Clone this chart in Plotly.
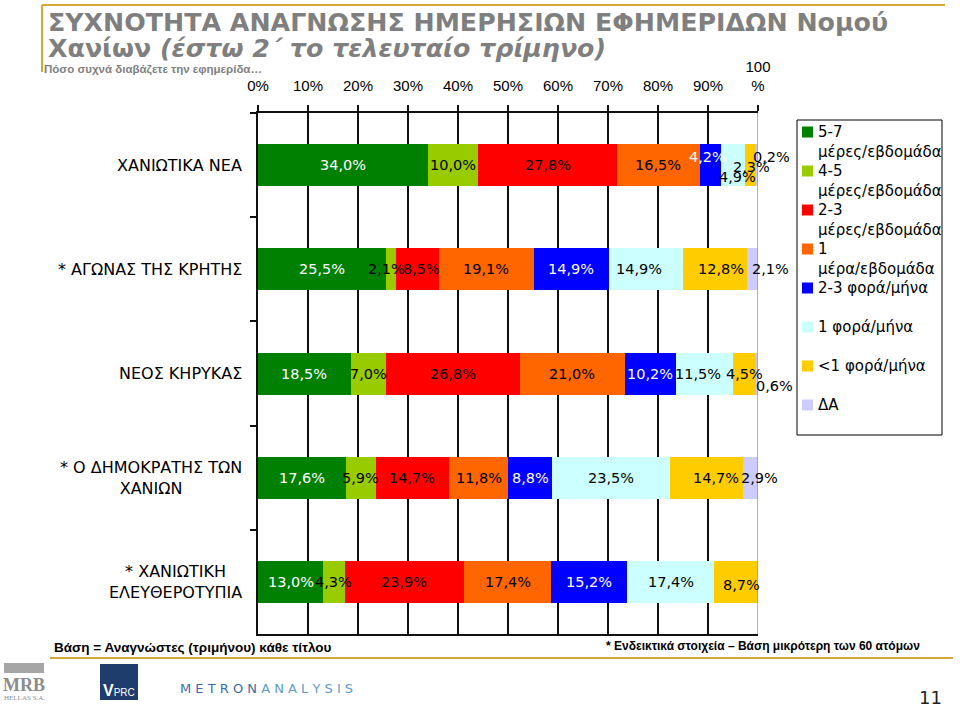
import plotly.graph_objects as go

# ---------------- data ----------------
categories = [
    "ΧΑΝΙΩΤΙΚΑ ΝΕΑ",
    "* ΑΓΩΝΑΣ ΤΗΣ ΚΡΗΤΗΣ",
    "ΝΕΟΣ ΚΗΡΥΚΑΣ",
    "* Ο ΔΗΜΟΚΡΑΤΗΣ ΤΩΝ<br>ΧΑΝΙΩΝ",
    "* ΧΑΝΙΩΤΙΚΗ<br>ΕΛΕΥΘΕΡΟΤΥΠΙΑ",
]
series_names = [
    "5-7<br>μέρες/εβδομάδα",
    "4-5<br>μέρες/εβδομάδα",
    "2-3<br>μέρες/εβδομάδα",
    "1<br>μέρα/εβδομάδα",
    "2-3 φορά/μήνα",
    "1 φορά/μήνα",
    "&lt;1 φορά/μήνα",
    "ΔΑ",
]
days_5_7 = [34.0, 25.5, 18.5, 17.6, 13.0]
days_4_5 = [10.0, 2.1, 7.0, 5.9, 4.3]
days_2_3 = [27.8, 8.5, 26.8, 14.7, 23.9]
day_1 = [16.5, 19.1, 21.0, 11.8, 17.4]
month_2_3 = [4.2, 14.9, 10.2, 8.8, 15.2]
month_1 = [4.9, 14.9, 11.5, 23.5, 17.4]
month_lt1 = [2.3, 12.8, 4.5, 14.7, 8.7]
no_answer = [0.2, 2.1, 0.6, 2.9, 0.0]
series_values = [days_5_7, days_4_5, days_2_3, day_1, month_2_3, month_1, month_lt1, no_answer]

x_tickvals = [0, 10, 20, 30, 40, 50, 60, 70, 80, 90, 100]
x_ticktext = ["0%", "10%", "20%", "30%", "40%", "50%", "60%", "70%", "80%", "90%", "100<br>%"]

# ---------------- styles ----------------
colors = ["#008000", "#99CC00", "#FF0000", "#FF6600", "#0000FF", "#CCFFFF", "#FFCC00", "#CCCCFF"]
label_colors = ["white", "black", "black", "black", "white", "black", "black", "black"]
# pixel nudges of individual value labels (row, series): (dx, dy)
label_nudge = {
    (0, 4): (-3, 8), (0, 5): (5, -12), (0, 6): (1, -2), (0, 7): (14, 8),
    (1, 1): (-4, 0), (1, 2): (4, 0), (1, 5): (-7, 0), (1, 6): (6, 0), (1, 7): (18, 0),
    (2, 5): (-6, 0), (2, 7): (17, -12),
    (3, 6): (10, 0), (3, 7): (9, 0),
    (4, 6): (6, -3),
}

W, H = 960, 708
L, R, T, B = 258, 758, 113, 634


def px(xp):
    return (xp - L) / (R - L)


def py(yp):
    return (B - yp) / (B - T)


GOLD = "#D4A838"
GRAY = "#7F7F7F"
MAIN_FONT = "DejaVu Sans"

fig = go.Figure()
for name, vals, col in zip(series_names, series_values, colors):
    fig.add_trace(go.Bar(
        y=categories, x=vals, name=name, orientation="h",
        marker=dict(color=col, line=dict(width=0)),
        showlegend=False, hoverinfo="x+y",
    ))

annotations = []
# value labels
for r, cat in enumerate(categories):
    cum = 0.0
    for s, vals in enumerate(series_values):
        v = vals[r]
        if v > 0:
            dx, dy = label_nudge.get((r, s), (0, 0))
            annotations.append(dict(
                x=cum + v / 2, y=cat, xref="x", yref="y",
                text=f"{v:.1f}".replace(".", ",") + "%",
                showarrow=False, xshift=dx, yshift=dy,
                font=dict(family=MAIN_FONT, size=14.5, color=label_colors[s]),
            ))
        cum += v

# category labels
for cat in categories:
    annotations.append(dict(
        x=0, y=cat, xref="paper", yref="y", xanchor="right", yanchor="middle",
        xshift=-14, text=cat, align="center", showarrow=False,
        font=dict(family=MAIN_FONT, size=16, color="black"),
    ))

# manual legend
shapes = []
for i, (name, col) in enumerate(zip(series_names, colors)):
    yc = 132 + 39 * i
    shapes.append(dict(type="rect", xref="paper", yref="paper",
                       x0=px(802), x1=px(813), y0=py(yc - 5.5), y1=py(yc + 5.5),
                       fillcolor=col, line=dict(width=0)))
    annotations.append(dict(
        x=px(816), y=py(yc - 11), xref="paper", yref="paper",
        xanchor="left", yanchor="top", align="left", text=name, showarrow=False,
        font=dict(family=MAIN_FONT, size=15, color="black"),
    ))
shapes.append(dict(type="rect", xref="paper", yref="paper",
                   x0=px(797), x1=px(942), y0=py(435), y1=py(120),
                   line=dict(color="black", width=1), fillcolor="rgba(0,0,0,0)"))

# right border of plot (100%) in gray
shapes.append(dict(type="line", xref="x", yref="paper", x0=100, x1=100, y0=0, y1=1,
                   line=dict(color="#999999", width=1.5), layer="above"))

# title frame and footer line
shapes.append(dict(type="line", xref="paper", yref="paper", x0=px(42), x1=px(945),
                   y0=py(5), y1=py(5), line=dict(color=GOLD, width=2)))
shapes.append(dict(type="line", xref="paper", yref="paper", x0=px(42), x1=px(42),
                   y0=py(5), y1=py(72), line=dict(color=GOLD, width=2)))
shapes.append(dict(type="line", xref="paper", yref="paper", x0=px(50), x1=px(953),
                   y0=py(658), y1=py(658), line=dict(color=GOLD, width=2)))

# title texts
annotations.append(dict(
    x=px(46), y=py(22), xref="paper", yref="paper", xanchor="left", yanchor="middle",
    text="<b>ΣΥΧΝΟΤΗΤΑ ΑΝΑΓΝΩΣΗΣ ΗΜΕΡΗΣΙΩΝ ΕΦΗΜΕΡΙΔΩΝ Νομού</b>", showarrow=False,
    font=dict(family=MAIN_FONT, size=25.3, color=GRAY)))
annotations.append(dict(
    x=px(46), y=py(49), xref="paper", yref="paper", xanchor="left", yanchor="middle",
    text="<b>Χανίων <i>(έστω 2΄ το τελευταίο τρίμηνο)</i></b>", showarrow=False,
    font=dict(family=MAIN_FONT, size=25.3, color=GRAY)))
annotations.append(dict(
    x=px(42), y=py(69), xref="paper", yref="paper", xanchor="left", yanchor="middle",
    text="<b>Πόσο συχνά διαβάζετε την εφημερίδα…</b>", showarrow=False,
    font=dict(family="Liberation Sans", size=11.5, color=GRAY)))

# footers
annotations.append(dict(
    x=px(52), y=py(647), xref="paper", yref="paper", xanchor="left", yanchor="middle",
    text="<b>Βάση = Αναγνώστες (τριμήνου) κάθε τίτλου</b>", showarrow=False,
    font=dict(family="Liberation Sans", size=13.5, color="black")))
annotations.append(dict(
    x=px(922), y=py(646), xref="paper", yref="paper", xanchor="right", yanchor="middle",
    text="<b>* Ενδεικτικά στοιχεία – Βάση μικρότερη των 60 ατόμων</b>", showarrow=False,
    font=dict(family="Liberation Sans", size=12, color="black")))
annotations.append(dict(
    x=px(944), y=py(697), xref="paper", yref="paper", xanchor="right", yanchor="middle",
    text="11", showarrow=False, font=dict(family=MAIN_FONT, size=18, color="#222222")))

# logos (approximate)
shapes.append(dict(type="rect", xref="paper", yref="paper", x0=px(4), x1=px(44),
                   y0=py(673), y1=py(663), fillcolor="#A6A6A6", line=dict(width=0)))
annotations.append(dict(
    x=px(24), y=py(685), xref="paper", yref="paper", xanchor="center", yanchor="middle",
    text="<b>MRB</b>", showarrow=False,
    font=dict(family="Liberation Serif", size=18, color="#8C8C8C")))
annotations.append(dict(
    x=px(24), y=py(698), xref="paper", yref="paper", xanchor="center", yanchor="middle",
    text="HELLAS S.A.", showarrow=False,
    font=dict(family="Liberation Serif", size=7, color="#8C8C8C")))
shapes.append(dict(type="rect", xref="paper", yref="paper", x0=px(100), x1=px(138),
                   y0=py(700), y1=py(664), fillcolor="#1F3D6C", line=dict(width=0)))
annotations.append(dict(
    x=px(119), y=py(690), xref="paper", yref="paper", xanchor="center", yanchor="middle",
    text="<b><span style='font-size:16px'>V</span></b>PRC", showarrow=False,
    font=dict(family="Liberation Sans", size=10, color="white")))
annotations.append(dict(
    x=px(178), y=py(688), xref="paper", yref="paper", xanchor="left", yanchor="middle",
    text="M E T R O N <span style='color:#5E9CC8'>A N A L Y S I S</span>", showarrow=False,
    font=dict(family=MAIN_FONT, size=13, color="#3E6DA6")))

fig.update_layout(
    barmode="stack",
    bargap=0.597,
    width=W, height=H,
    margin=dict(l=L, r=W - R, t=T, b=H - B, pad=0),
    paper_bgcolor="white",
    plot_bgcolor="white",
    showlegend=False,
    annotations=annotations,
    shapes=shapes,
    xaxis=dict(
        side="top", range=[0, 100], tickvals=x_tickvals, ticktext=x_ticktext,
        showgrid=True, gridcolor="#111111", gridwidth=1.5, zeroline=False,
        showline=True, linecolor="#111111", linewidth=1.5, mirror=True,
        ticks="outside", ticklen=6, tickwidth=1.5, tickcolor="#111111",
        tickfont=dict(family="Liberation Sans", size=15, color="black"),
        ticklabelstandoff=8, fixedrange=True,
    ),
    yaxis=dict(
        autorange="reversed", type="category", showticklabels=False,
        showgrid=False, zeroline=False, showline=True, linecolor="#111111", linewidth=2,
        ticks="outside", tickson="boundaries", ticklen=6, tickwidth=1.5, tickcolor="#111111",
        fixedrange=True,
    ),
)

fig.write_html(
    "out.html",
    config={"displayModeBar": False},
    post_script="document.body.style.margin='0px';document.body.style.overflow='hidden';",
)
